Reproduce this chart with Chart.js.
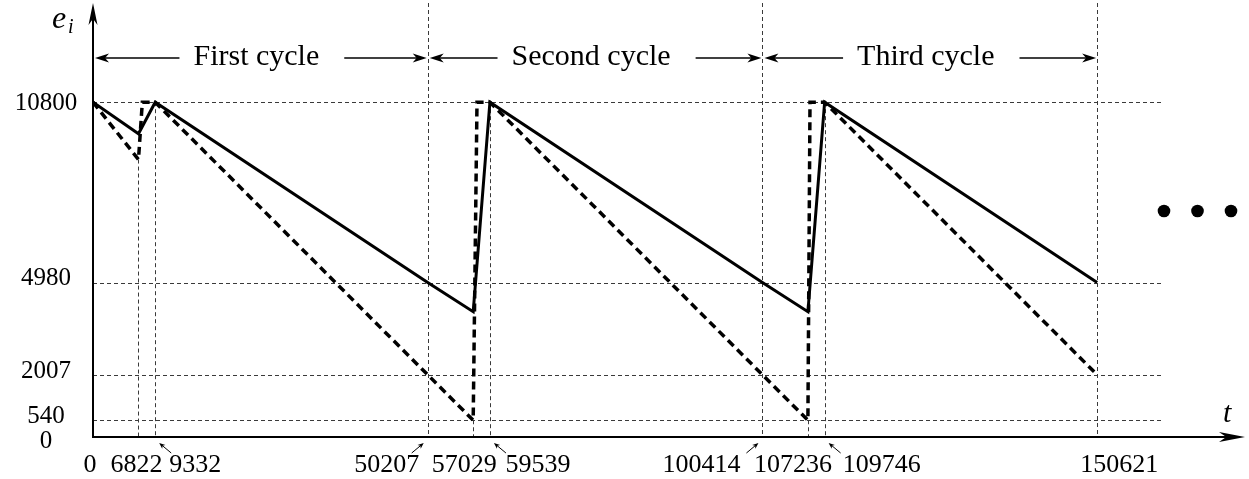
<!DOCTYPE html>
<html>
<head>
<meta charset="utf-8">
<script src="https://cdn.jsdelivr.net/npm/chart.js@4/dist/chart.umd.min.js"></script>
<style>
  html, body { margin: 0; padding: 0; background: #fff; }
  #wrap { width: 1249px; height: 479px; position: relative; }
</style>
</head>
<body>
<div id="wrap"><canvas id="c" width="1249" height="479"></canvas></div>
<script>
// Stored energy e_i against time t over three charging cycles
const solidT = [0, 6822, 9332, 50207, 57029, 59539, 100414, 107236, 109746, 150621];
const solidE = [10800, 9780, 10800, 4980, 4040, 10800, 4980, 4040, 10800, 4980];
const dashT  = [0, 6822, 7400, 9332, 50207, 57029, 57600, 59539, 100414, 107236, 107550, 109746, 150621];
const dashE  = [10800, 8950, 10800, 10800, 2007, 540, 10800, 10800, 2007, 540, 10800, 10800, 2007];

const levelTicks = [0, 540, 2007, 4980, 10800];
const timeTicks  = [0, 6822, 9332, 50207, 57029, 59539, 100414, 107236, 109746, 150621];
const cycleBounds = [0, 50207, 100414, 150621];
const cycleNames  = ['First cycle', 'Second cycle', 'Third cycle'];

// label placement: pixel nudges away from the tick position
const levelLabelNudge = [3, -5, -4, -5, 0];
const timeLabelShift = [-3, -2, 40, -41, -9, 48, -61, -15, 57, 22];
const timeLabelPointer = [false, false, true, true, false, true, true, false, true, false];

const Y_MAX = 14000;
const X_MAX = 172800;
const LEVEL_LINE_END = 160400;
const SERIF = '"Liberation Serif", "DejaVu Serif", serif';

function pts(ts, es) { return ts.map((t, i) => ({ x: t, y: es[i] })); }

function valueAt(ts, es, t) {
  const v = [];
  ts.forEach((tt, i) => { if (tt === t) v.push(es[i]); });
  return v.length ? Math.min(...v) : null;
}

function head(ctx, x, y, ang, len, half) {
  ctx.save();
  ctx.translate(x, y);
  ctx.rotate(ang);
  ctx.beginPath();
  ctx.moveTo(0, 0);
  ctx.lineTo(-len, -half);
  ctx.lineTo(-len * 0.72, 0);
  ctx.lineTo(-len, half);
  ctx.closePath();
  ctx.fill();
  ctx.restore();
}

function arrow(ctx, x1, y1, x2, y2, width, len, half) {
  const ang = Math.atan2(y2 - y1, x2 - x1);
  ctx.lineWidth = width;
  ctx.beginPath();
  ctx.moveTo(x1, y1);
  ctx.lineTo(x2 - Math.cos(ang) * len * 0.6, y2 - Math.sin(ang) * len * 0.6);
  ctx.stroke();
  head(ctx, x2, y2, ang, len, half);
}

const guides = {
  id: 'guides',
  beforeDatasetsDraw(chart) {
    const { ctx, scales: { x, y } } = chart;
    ctx.save();
    ctx.strokeStyle = '#3a3a3a';
    ctx.lineWidth = 1;
    ctx.setLineDash([4, 3]);
    // horizontal level lines
    levelTicks.forEach(v => {
      if (v === 0) return;
      const py = Math.round(y.getPixelForValue(v)) + 0.5;
      ctx.beginPath();
      ctx.moveTo(x.getPixelForValue(0), py);
      ctx.lineTo(x.getPixelForValue(LEVEL_LINE_END), py);
      ctx.stroke();
    });
    // vertical time markers
    timeTicks.forEach(t => {
      if (t === 0) return;
      const px = Math.round(x.getPixelForValue(t)) + 0.5;
      let top;
      if (cycleBounds.includes(t)) {
        top = y.getPixelForValue(Y_MAX);
      } else {
        const a = valueAt(solidT, solidE, t);
        const b = valueAt(dashT, dashE, t);
        top = y.getPixelForValue(Math.min(a ?? Infinity, b ?? Infinity));
      }
      ctx.beginPath();
      ctx.moveTo(px, top);
      ctx.lineTo(px, y.getPixelForValue(0));
      ctx.stroke();
    });
    ctx.restore();
  },
  afterDraw(chart) {
    const { ctx, chartArea: ca, scales: { x, y } } = chart;
    const x0 = x.getPixelForValue(0);
    const y0 = y.getPixelForValue(0);
    ctx.save();
    ctx.fillStyle = '#000';
    ctx.strokeStyle = '#000';
    ctx.setLineDash([]);

    // axes with arrow heads
    ctx.lineWidth = 2;
    ctx.beginPath();
    ctx.moveTo(x0, y0);
    ctx.lineTo(ca.right - 12, y0);
    ctx.stroke();
    head(ctx, ca.right, y0, 0, 26, 5);
    ctx.beginPath();
    ctx.moveTo(x0, y0 + 1);
    ctx.lineTo(x0, ca.top + 12);
    ctx.stroke();
    head(ctx, x0, ca.top, -Math.PI / 2, 22, 4.5);

    // axis titles
    ctx.textAlign = 'left';
    ctx.textBaseline = 'alphabetic';
    ctx.font = 'italic 32px ' + SERIF;
    ctx.fillText('e', 52, 28);
    ctx.font = 'italic 20px ' + SERIF;
    ctx.fillText('i', 68, 33);
    ctx.font = 'italic 30px ' + SERIF;
    ctx.fillText('t', 1223, 422);

    // level labels
    ctx.font = '25px ' + SERIF;
    ctx.textAlign = 'center';
    ctx.textBaseline = 'middle';
    levelTicks.forEach((v, i) => {
      ctx.fillText(String(v), x0 - 47, y.getPixelForValue(v) + levelLabelNudge[i] + 1);
    });

    // time labels
    ctx.textBaseline = 'alphabetic';
    ctx.font = '26px ' + SERIF;
    timeTicks.forEach((t, i) => {
      const px = x.getPixelForValue(t);
      ctx.fillText(String(t), px + timeLabelShift[i], 472);
      if (timeLabelPointer[i]) {
        const dir = Math.sign(timeLabelShift[i]);
        const tipX = px + 4 * dir;
        const tipY = y0 + 6;
        arrow(ctx, tipX + 12 * dir, tipY + 10, tipX, tipY, 1, 6, 2.5);
      }
    });

    // cycle spans
    ctx.font = '30px ' + SERIF;
    for (let i = 0; i < cycleNames.length; i++) {
      const a = x.getPixelForValue(cycleBounds[i]);
      const b = x.getPixelForValue(cycleBounds[i + 1]);
      const c = (a + b) / 2 - 4;
      const w = ctx.measureText(cycleNames[i]).width;
      ctx.textAlign = 'center';
      ctx.fillText(cycleNames[i], c, 65);
      arrow(ctx, c - w / 2 - 14, 58, a + 2, 58, 1.3, 14, 4.5);
      arrow(ctx, c + w / 2 + 25, 58, b - 1, 58, 1.3, 14, 4.5);
    }

    // continuation dots
    for (let k = 0; k < 3; k++) {
      ctx.beginPath();
      ctx.arc(ca.right - 14 - k * 33.5, ca.top + 208, 6.3, 0, Math.PI * 2);
      ctx.fill();
    }
    ctx.restore();
  }
};

new Chart(document.getElementById('c'), {
  type: 'line',
  data: {
    datasets: [
      {
        label: 'e_i (solid)',
        data: pts(solidT, solidE),
        borderColor: '#000',
        borderWidth: 3,
        pointRadius: 0,
        tension: 0,
        fill: false,
        borderJoinStyle: 'miter'
      },
      {
        label: 'e_i (dashed)',
        data: pts(dashT, dashE),
        borderColor: '#000',
        borderWidth: 3.5,
        borderDash: [8, 5],
        pointRadius: 0,
        tension: 0,
        fill: false,
        borderJoinStyle: 'miter'
      }
    ]
  },
  options: {
    responsive: false,
    animation: false,
    layout: { padding: { left: 0, right: 4, top: 3, bottom: 0 } },
    plugins: { legend: { display: false }, tooltip: { enabled: false } },
    scales: {
      x: {
        type: 'linear',
        min: 0,
        max: X_MAX,
        grid: { display: false },
        border: { display: false },
        ticks: { display: false },
        afterFit(s) { s.height = 42; }
      },
      y: {
        type: 'linear',
        min: 0,
        max: Y_MAX,
        grid: { display: false },
        border: { display: false },
        ticks: { display: false },
        afterFit(s) { s.width = 93; }
      }
    }
  },
  plugins: [guides]
});
</script>
</body>
</html>
